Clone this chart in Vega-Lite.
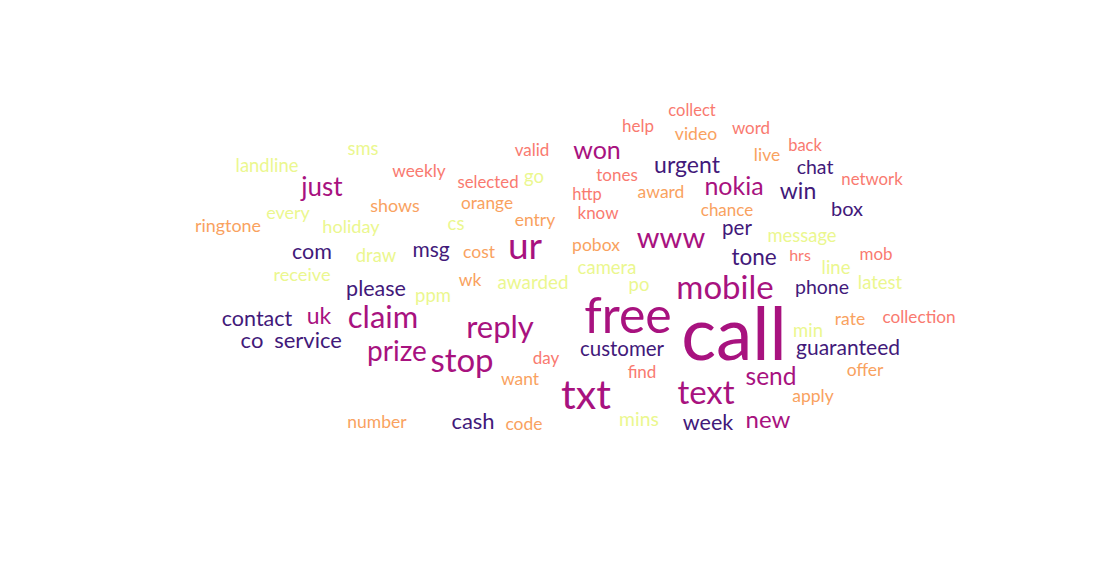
{
  "$schema": "https://vega.github.io/schema/vega-lite/v6.json",
  "width": 1113,
  "height": 562,
  "padding": 0,
  "autosize": {"type": "fit", "contains": "padding"},
  "background": "white",
  "config": {"view": {"stroke": null}},
  "data": {
    "values": [
      {"word": "call", "x": 734, "y": 338, "count": 73, "tier": "a"},
      {"word": "free", "x": 628, "y": 318, "count": 50, "tier": "a"},
      {"word": "txt", "x": 586, "y": 397, "count": 41, "tier": "a"},
      {"word": "ur", "x": 525, "y": 248, "count": 37, "tier": "a"},
      {"word": "stop", "x": 462, "y": 362, "count": 33, "tier": "a"},
      {"word": "text", "x": 706, "y": 394, "count": 33, "tier": "a"},
      {"word": "mobile", "x": 725, "y": 289, "count": 33, "tier": "a"},
      {"word": "www", "x": 671, "y": 239, "count": 29, "tier": "a"},
      {"word": "claim", "x": 383, "y": 319, "count": 31, "tier": "a"},
      {"word": "reply", "x": 500, "y": 329, "count": 31, "tier": "a"},
      {"word": "prize", "x": 397, "y": 353, "count": 28, "tier": "a"},
      {"word": "won", "x": 597, "y": 151, "count": 25, "tier": "a"},
      {"word": "just", "x": 322, "y": 188, "count": 26, "tier": "a"},
      {"word": "nokia", "x": 734, "y": 187, "count": 25, "tier": "a"},
      {"word": "send", "x": 771, "y": 378, "count": 24.5, "tier": "a"},
      {"word": "new", "x": 768, "y": 421, "count": 24, "tier": "a"},
      {"word": "uk", "x": 319, "y": 317, "count": 23, "tier": "a"},
      {"word": "urgent", "x": 687, "y": 166, "count": 23, "tier": "b"},
      {"word": "win", "x": 798, "y": 192, "count": 23, "tier": "b"},
      {"word": "tone", "x": 754, "y": 258, "count": 22.5, "tier": "b"},
      {"word": "contact", "x": 257, "y": 320, "count": 21.5, "tier": "b"},
      {"word": "guaranteed", "x": 848, "y": 349, "count": 21, "tier": "b"},
      {"word": "cash", "x": 473, "y": 422, "count": 22, "tier": "b"},
      {"word": "week", "x": 708, "y": 424, "count": 21.5, "tier": "b"},
      {"word": "chat", "x": 815, "y": 168, "count": 19.5, "tier": "b"},
      {"word": "box", "x": 847, "y": 210, "count": 20, "tier": "b"},
      {"word": "per", "x": 737, "y": 229, "count": 20.5, "tier": "b"},
      {"word": "com", "x": 312, "y": 253, "count": 21.5, "tier": "b"},
      {"word": "msg", "x": 431, "y": 251, "count": 21, "tier": "b"},
      {"word": "phone", "x": 822, "y": 288, "count": 19.5, "tier": "b"},
      {"word": "please", "x": 376, "y": 290, "count": 21.5, "tier": "b"},
      {"word": "co", "x": 252, "y": 341, "count": 22, "tier": "b"},
      {"word": "service", "x": 308, "y": 341, "count": 22, "tier": "b"},
      {"word": "customer", "x": 622, "y": 350, "count": 20.5, "tier": "b"},
      {"word": "collect", "x": 692, "y": 111, "count": 16.5, "tier": "c"},
      {"word": "help", "x": 638, "y": 127, "count": 17, "tier": "c"},
      {"word": "word", "x": 751, "y": 129, "count": 17, "tier": "c"},
      {"word": "back", "x": 805, "y": 146, "count": 16.5, "tier": "c"},
      {"word": "valid", "x": 532, "y": 151, "count": 17, "tier": "c"},
      {"word": "weekly", "x": 419, "y": 172, "count": 17.3, "tier": "c"},
      {"word": "tones", "x": 617, "y": 176, "count": 17, "tier": "c"},
      {"word": "selected", "x": 488, "y": 183, "count": 16.8, "tier": "c"},
      {"word": "network", "x": 872, "y": 180, "count": 16.8, "tier": "c"},
      {"word": "http", "x": 587, "y": 195, "count": 16.5, "tier": "c"},
      {"word": "know", "x": 598, "y": 214, "count": 17, "tier": "c"},
      {"word": "hrs", "x": 800, "y": 256, "count": 16, "tier": "c"},
      {"word": "mob", "x": 876, "y": 255, "count": 17, "tier": "c"},
      {"word": "collection", "x": 919, "y": 318, "count": 17.2, "tier": "c"},
      {"word": "day", "x": 546, "y": 359, "count": 17, "tier": "c"},
      {"word": "find", "x": 642, "y": 373, "count": 17, "tier": "c"},
      {"word": "video", "x": 696, "y": 135, "count": 17.6, "tier": "d"},
      {"word": "live", "x": 767, "y": 156, "count": 17.5, "tier": "d"},
      {"word": "award", "x": 661, "y": 193, "count": 17.5, "tier": "d"},
      {"word": "orange", "x": 487, "y": 204, "count": 17.3, "tier": "d"},
      {"word": "shows", "x": 395, "y": 207, "count": 17.9, "tier": "d"},
      {"word": "chance", "x": 727, "y": 211, "count": 17, "tier": "d"},
      {"word": "ringtone", "x": 228, "y": 227, "count": 17.9, "tier": "d"},
      {"word": "entry", "x": 535, "y": 221, "count": 17.5, "tier": "d"},
      {"word": "cost", "x": 479, "y": 253, "count": 17.5, "tier": "d"},
      {"word": "pobox", "x": 596, "y": 246, "count": 17.5, "tier": "d"},
      {"word": "wk", "x": 470, "y": 281, "count": 17.5, "tier": "d"},
      {"word": "rate", "x": 850, "y": 320, "count": 17.5, "tier": "d"},
      {"word": "offer", "x": 865, "y": 371, "count": 17.5, "tier": "d"},
      {"word": "want", "x": 520, "y": 380, "count": 17.5, "tier": "d"},
      {"word": "apply", "x": 813, "y": 397, "count": 17.5, "tier": "d"},
      {"word": "number", "x": 377, "y": 423, "count": 17.5, "tier": "d"},
      {"word": "code", "x": 524, "y": 425, "count": 17.5, "tier": "d"},
      {"word": "sms", "x": 363, "y": 149, "count": 18.4, "tier": "e"},
      {"word": "landline", "x": 267, "y": 166, "count": 18.4, "tier": "e"},
      {"word": "go", "x": 534, "y": 177, "count": 18.5, "tier": "e"},
      {"word": "every", "x": 288, "y": 214, "count": 18, "tier": "e"},
      {"word": "cs", "x": 456, "y": 224, "count": 18.5, "tier": "e"},
      {"word": "holiday", "x": 351, "y": 228, "count": 18.2, "tier": "e"},
      {"word": "message", "x": 802, "y": 236, "count": 18.4, "tier": "e"},
      {"word": "draw", "x": 376, "y": 256, "count": 18.5, "tier": "e"},
      {"word": "camera", "x": 607, "y": 268, "count": 18.5, "tier": "e"},
      {"word": "line", "x": 836, "y": 268, "count": 18.5, "tier": "e"},
      {"word": "receive", "x": 302, "y": 276, "count": 18.2, "tier": "e"},
      {"word": "po", "x": 639, "y": 285, "count": 18.5, "tier": "e"},
      {"word": "awarded", "x": 533, "y": 283, "count": 18.9, "tier": "e"},
      {"word": "latest", "x": 880, "y": 283, "count": 18.5, "tier": "e"},
      {"word": "ppm", "x": 433, "y": 296, "count": 18.5, "tier": "e"},
      {"word": "min", "x": 808, "y": 331, "count": 18.5, "tier": "e"},
      {"word": "mins", "x": 639, "y": 420, "count": 19.4, "tier": "e"}
    ]
  },
  "mark": {"type": "text", "font": "Lato", "align": "center", "baseline": "middle"},
  "encoding": {
    "x": {"field": "x", "type": "quantitative", "scale": {"domain": [0, 1113]}, "axis": null},
    "y": {"field": "y", "type": "quantitative", "scale": {"domain": [0, 562], "reverse": true}, "axis": null},
    "text": {"field": "word"},
    "size": {"field": "count", "type": "quantitative", "scale": {"type": "linear", "domain": [0, 73], "range": [0, 73]}, "legend": null},
    "color": {
      "field": "tier",
      "type": "nominal",
      "scale": {"domain": ["a", "b", "c", "d", "e"], "range": ["#a8127f", "#42197a", "#f97a70", "#f9a25f", "#ebf78f"]},
      "legend": null
    }
  }
}
